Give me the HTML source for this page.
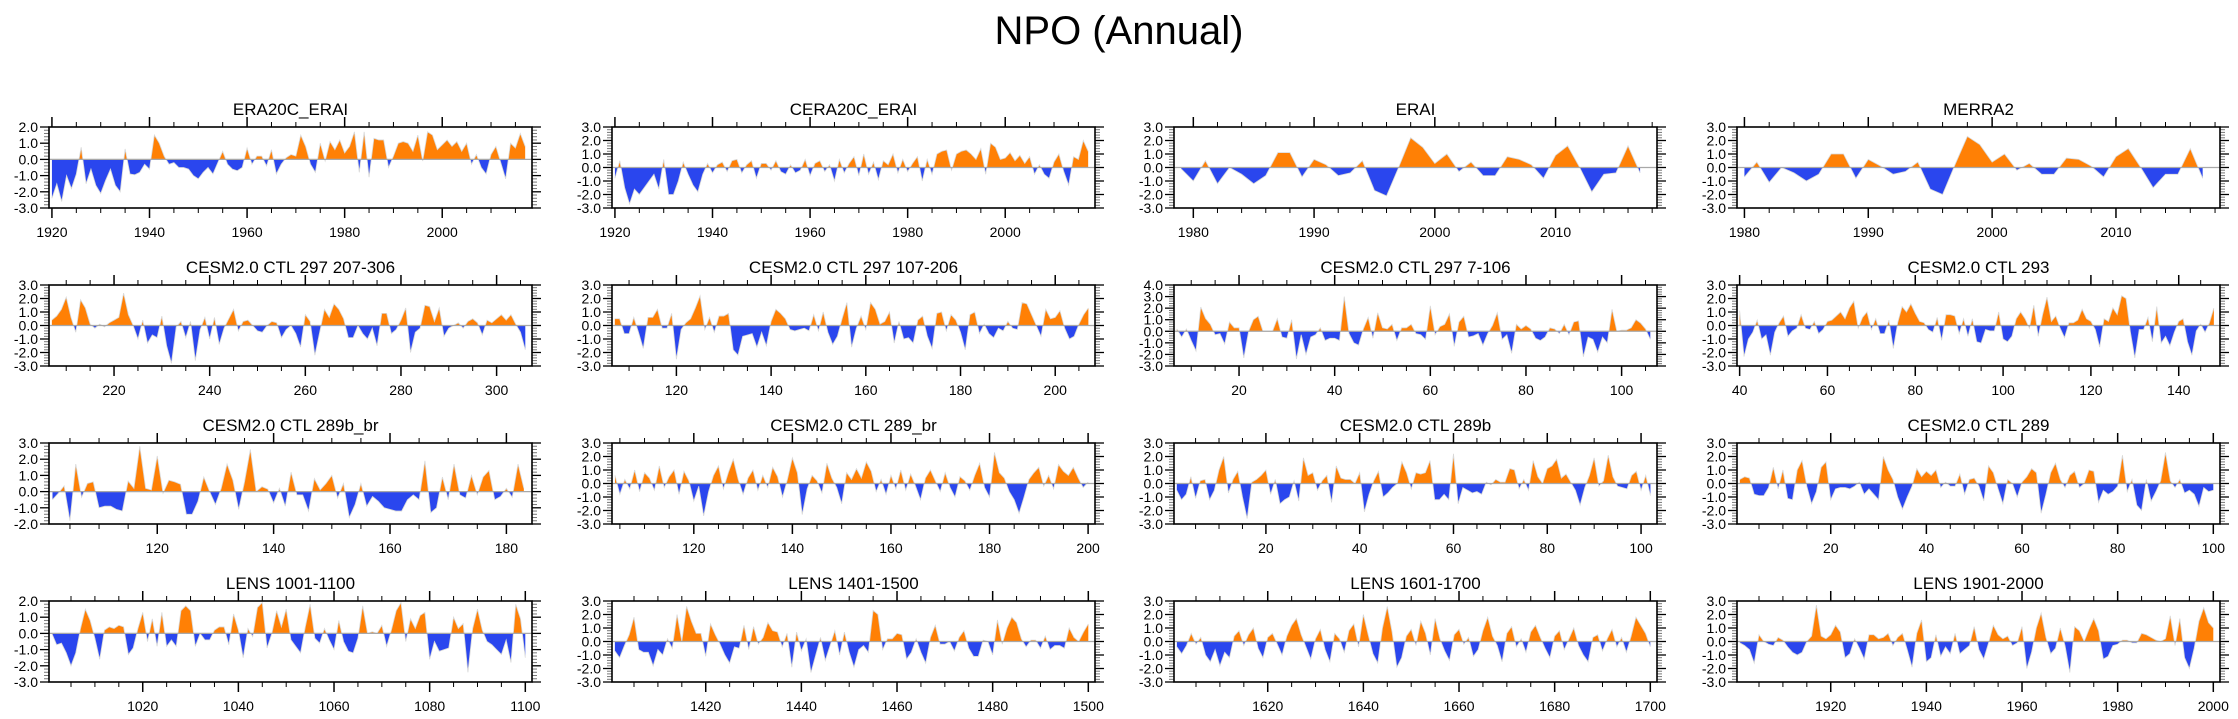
<!DOCTYPE html>
<html><head><meta charset="utf-8"><title>NPO (Annual)</title>
<style>
html,body{margin:0;padding:0;background:#fff;}
svg{display:block;font-family:"Liberation Sans",Arial,sans-serif;}
</style></head>
<body>
<svg id="chart" width="2238" height="719" viewBox="0 0 2238 719" xmlns="http://www.w3.org/2000/svg">
<text x="1119" y="44" text-anchor="middle" font-size="40" fill="#000">NPO (Annual)</text>
</svg>
<script>
// ---- data arrays (one value per year) ----
const era20cStart = 1920;
const era20cVals = [-2.4,-1.5,-2.6,-1.0,-1.8,-0.9,0.75,-1.5,-0.6,-1.6,-2.1,-1.3,-0.6,-1.6,-2.0,0.65,-0.9,-0.95,-0.8,-0.3,-0.6,1.5,1.0,0.2,-0.3,-0.2,-0.5,-0.5,-0.6,-1.0,-1.2,-0.8,-0.5,-0.9,-0.2,0.5,-0.3,-0.6,-0.7,-0.5,0.7,-0.3,0.2,0.2,-0.4,0.6,-0.9,-0.3,0.1,0.3,0.2,1.5,0.8,-0.3,-0.8,1.0,-0.1,1.1,0.6,1.2,0.4,0.8,1.7,-0.8,1.7,-1.1,1.3,1.2,1.2,-0.5,0.2,1.0,1.1,1.0,0.5,1.5,-0.1,1.7,1.5,0.6,0.9,1.2,0.8,1.1,0.5,1.0,-0.3,0.3,-0.5,-0.9,0.3,0.8,-0.2,-1.2,1.0,0.7,1.6,0.8];
const cera20cStart = 1920;
const cera20cVals = [-0.8,0.5,-1.5,-2.7,-1.6,-2.0,-1.5,-1.0,-0.5,-1.6,0.6,-2.0,-2.0,-1.0,0.4,-0.5,-1.3,-1.8,-0.5,0.3,-0.4,0.2,0.4,-0.3,0.5,0.6,-0.4,0.2,0.5,-0.8,0.3,0.3,-0.2,0.5,-0.3,-0.5,0.2,-0.4,-0.2,0.6,-0.6,0.3,0.5,-0.3,0.2,-1.0,0.6,-0.4,0.3,0.8,-0.6,1.0,-0.5,0.4,-0.9,0.5,0.2,1.0,-0.4,0.6,-0.3,0.3,0.8,-1.0,0.6,-0.5,1.0,1.2,1.3,-0.2,1.0,1.2,1.3,1.0,0.6,1.4,-0.5,1.8,1.5,0.6,0.7,1.1,0.5,0.9,0.3,0.8,-0.5,0.2,-0.5,-0.8,0.4,1.0,-0.3,-1.3,0.8,0.6,2.0,1.2];
const eraiStart = 1979;
const eraiVals = [-0.1,-1.0,0.5,-1.2,0.0,-0.5,-1.2,-0.6,1.1,1.1,-0.7,0.6,0.2,-0.6,-0.4,0.5,-1.7,-2.1,0.0,2.2,1.5,0.3,1.0,-0.3,0.4,-0.6,-0.6,0.8,0.6,0.2,-0.8,0.9,1.6,0.0,-1.8,-0.5,-0.4,1.6,-0.4];
const merra2Start = 1980;
const merra2Vals = [-0.7,0.4,-1.1,0.0,-0.4,-1.0,-0.5,1.0,1.0,-0.8,0.6,0.1,-0.5,-0.3,0.4,-1.6,-2.0,0.2,2.3,1.7,0.4,1.0,-0.2,0.3,-0.5,-0.5,0.7,0.6,0.1,-0.7,0.8,1.4,0.0,-1.5,-0.5,-0.5,1.4,-0.8];
const ctl297aStart = 207;
const ctl297aVals = [0.4,0.7,1.2,2.1,0.6,-0.5,1.9,1.3,0.1,-0.2,0.1,-0.1,0.2,0.4,0.6,2.4,0.8,0.0,-1.0,0.4,-1.3,-0.7,-0.9,0.7,-1.5,-2.8,-0.1,0.3,-0.9,0.3,-2.6,-0.3,0.6,-1.0,0.6,-1.4,-0.2,0.5,1.2,-0.4,0.3,0.4,0.0,-0.4,-0.5,0.0,0.3,0.2,-0.9,-0.3,0.0,-0.6,-1.6,0.8,0.3,-2.2,-0.5,1.2,0.6,1.6,1.2,0.5,-0.9,-0.9,0.0,-0.6,-1.0,-0.2,-1.5,0.9,0.9,-0.6,-0.3,0.4,1.3,-2.0,-0.5,-0.2,1.5,1.4,0.3,1.3,-0.8,-0.2,0.0,0.2,-0.2,0.3,0.5,0.2,-0.7,0.4,0.2,0.5,0.8,0.4,0.8,0.1,-0.5,-1.8];
const ctl297bStart = 107;
const ctl297bVals = [0.5,0.5,-0.6,-0.6,0.6,-0.5,-1.7,0.6,0.6,1.2,-0.2,-0.2,0.9,-2.5,-0.3,0.2,0.5,1.3,2.2,-0.3,0.6,-0.5,0.7,0.7,0.9,-1.8,-2.2,-0.8,-0.7,-0.6,-1.6,-0.5,-1.5,0.3,1.2,0.9,0.5,-0.3,-0.4,-0.3,-0.2,-0.4,0.8,-0.4,1.0,-0.5,-1.4,-0.8,0.5,1.7,-1.6,-0.2,0.7,-0.3,1.7,1.2,0.1,0.3,1.0,-1.3,0.3,-1.0,-0.9,-1.3,0.4,0.7,-0.8,-1.7,0.9,1.0,-0.4,0.8,0.4,-0.5,-1.8,0.8,1.0,-0.6,0.1,-0.6,-0.9,-0.2,-0.4,0.3,-0.2,-0.3,1.7,1.6,0.8,0.0,-0.8,1.2,0.5,0.6,1.1,-0.2,-1.0,-0.8,0.1,0.8,1.3];
const ctl297cStart = 7;
const ctl297cVals = [0.2,-0.5,0.2,-0.8,-1.7,2.1,1.1,0.6,-0.3,-0.2,-1.1,0.8,0.3,0.3,-2.3,0.0,1.0,1.3,0.0,0.0,0.0,1.1,-0.5,-0.6,1.0,-2.4,-0.3,-2.0,-0.5,-0.3,0.3,-0.8,-0.6,-0.6,-0.8,3.0,-0.2,-1.0,-1.2,0.2,1.2,-0.6,1.6,0.3,0.2,0.6,-0.8,0.3,0.3,0.6,-0.2,-0.3,-0.7,2.2,-0.3,0.4,0.6,1.5,-1.3,0.8,1.3,-0.5,-0.4,-0.2,-1.2,-0.2,0.5,1.6,-0.7,-0.3,-1.9,0.6,0.2,0.5,0.2,-0.6,-0.8,-0.5,0.3,0.2,-0.2,0.6,-0.3,0.8,0.9,-2.2,-0.5,-0.7,-1.8,-0.5,-1.0,1.9,0.0,0.1,0.1,0.3,1.0,0.7,0.2,-0.7];
const ctl293Start = 40;
const ctl293Vals = [1.1,-2.3,-1.0,-0.5,0.4,-1.0,-0.7,-2.2,-0.5,0.2,0.7,-0.8,-0.4,-0.2,0.8,-0.2,-0.3,0.3,-0.6,-0.3,0.3,0.4,0.7,1.0,0.5,1.3,1.8,-0.2,0.6,1.0,-0.3,0.5,-0.6,-0.6,0.4,-1.7,0.2,1.4,1.0,1.6,0.9,0.3,0.2,-0.3,-0.5,0.6,-1.1,0.8,0.8,0.7,-0.6,0.5,-0.8,0.5,-1.2,-1.3,-0.3,-0.4,-0.4,1.0,-1.0,-1.2,-0.8,0.5,1.0,0.5,-0.2,1.5,-0.8,0.8,2.1,0.3,0.7,-0.2,-0.9,0.2,0.2,0.4,1.2,0.5,0.3,-0.3,-1.6,0.5,0.3,1.3,0.8,2.2,2.0,-0.5,-2.4,-0.3,-0.3,0.6,-1.2,1.4,-1.3,-0.8,-1.5,-0.5,0.3,0.5,-1.2,-2.2,-0.4,0.1,-0.5,0.2,1.3];
const ctl289bbrStart = 102;
const ctl289bbrVals = [-0.5,-0.1,0.35,-1.8,1.7,-0.35,0.5,0.6,-1.0,-0.9,-0.9,-1.1,-1.2,0.65,0.2,2.8,0.2,0.1,2.2,-0.1,0.7,0.6,0.45,-1.4,-1.4,-0.6,0.9,0.0,-0.8,0.2,1.7,0.7,-1.1,0.6,2.6,0.0,0.3,0.15,-0.7,0.2,-0.9,1.2,-0.2,-0.2,-1.2,0.8,0.1,0.5,1.0,-0.4,0.5,-1.6,-0.8,0.5,-0.9,-0.3,-0.6,-1.0,-1.1,-1.2,-1.2,-0.5,-0.2,-0.5,1.9,-1.3,-1.0,0.9,-0.5,1.7,-0.2,-0.4,1.0,-0.2,0.9,1.3,-0.5,-0.3,0.2,-0.35,1.7,0.2];
const ctl289brStart = 104;
const ctl289brVals = [0.6,-0.8,0.3,-0.4,1.0,-0.6,0.8,0.4,-0.5,1.3,-0.3,0.5,1.0,-0.8,0.9,0.2,-1.3,-0.2,-2.4,-0.6,0.6,1.3,-0.4,0.8,1.8,0.3,-0.8,0.4,1.0,-0.5,0.6,-0.3,1.2,0.5,-1.0,0.3,1.9,0.8,-2.3,-0.4,0.6,0.2,-0.7,1.5,0.4,-0.3,-1.5,0.8,0.3,1.1,0.4,1.6,0.9,-0.6,0.3,-0.8,0.6,-0.4,1.0,-0.5,0.7,-0.2,-1.2,0.4,1.0,0.2,-0.6,0.8,-0.3,-1.0,0.5,0.2,-0.5,0.6,1.5,-0.3,-1.0,2.3,0.8,0.4,-0.6,-1.2,-2.2,-1.0,0.3,0.8,1.2,-0.2,0.6,-0.4,1.4,0.9,0.6,1.2,0.4,-0.3,0.1];
const ctl289bStart = 1;
const ctl289bVals = [-0.5,-1.2,-0.8,0.5,-1.1,0.2,0.3,-1.2,-0.5,1.0,2.0,-0.7,0.3,0.9,-1.0,-2.6,0.1,0.3,0.6,1.0,-0.8,0.3,-1.5,-1.2,-1.0,0.2,-1.3,1.9,0.6,0.8,-0.5,0.2,0.6,-1.4,1.3,0.4,0.3,0.3,0.0,0.8,-2.1,-0.8,0.2,0.9,-1.0,-0.7,-0.3,0.0,1.6,0.8,-0.4,0.8,0.7,0.8,1.7,-1.2,-1.2,-0.8,-1.2,2.2,-1.5,-0.3,-0.5,-0.7,-0.6,-0.8,0.1,-0.1,0.3,0.1,0.1,1.1,1.0,-0.4,0.3,-0.5,1.7,0.5,0.0,1.1,1.3,1.8,0.4,0.7,0.1,-0.5,-1.6,-0.3,0.6,1.9,-0.2,0.2,2.1,0.5,-0.2,-0.3,-0.4,0.6,0.9,-0.5,0.6,-0.9];
const ctl289Start = 1;
const ctl289Vals = [0.3,0.5,0.4,-0.8,-0.9,-0.9,-0.3,1.2,-0.4,1.0,-1.1,-1.2,1.0,1.7,-0.2,-1.5,-0.6,1.2,1.6,-1.2,-0.4,-0.3,-0.3,-0.4,-0.2,0.1,-0.8,-0.4,-0.8,-1.2,2.0,1.0,0.3,-1.0,-1.9,-1.0,-0.2,1.1,0.5,0.9,0.6,1.0,-0.3,0.1,-0.2,-0.2,0.7,-0.8,0.3,0.4,-0.2,-1.3,1.3,0.8,-0.4,-1.5,0.3,0.0,-1.0,0.1,0.5,1.1,0.8,-2.2,-0.8,0.8,1.5,0.3,-0.3,0.6,0.9,-0.3,0.0,1.0,0.9,-1.4,-0.5,-0.8,-0.6,-0.2,2.1,-0.6,0.3,-1.6,-2.0,0.3,-1.3,-0.6,0.2,2.3,0.2,-0.3,0.3,-0.7,-0.5,-0.8,-1.7,-0.3,-0.6,-0.5];
const lensAStart = 1001;
const lensAVals = [0.0,-0.7,-0.6,-1.2,-2.0,-1.2,0.3,1.5,0.8,-0.3,-1.6,0.2,0.4,0.3,0.5,0.4,-1.3,-0.9,0.3,1.3,-0.5,0.9,-0.8,1.3,-0.8,-0.4,-0.8,1.4,1.7,1.4,-0.8,0.0,-0.4,-0.4,0.2,0.4,0.4,-0.7,1.2,0.2,-1.5,0.3,-0.2,1.6,1.9,-0.9,0.0,1.4,0.4,1.5,-0.4,-0.8,-1.2,0.4,1.8,-0.3,-0.6,0.3,-0.4,-1.0,0.8,-0.5,-1.1,-1.2,-0.3,1.7,0.0,0.1,0.0,0.5,-0.8,0.2,1.4,1.9,-0.5,0.9,0.3,1.1,1.3,-1.6,-0.5,-1.1,-1.0,-0.9,1.0,0.3,0.6,-2.4,0.3,1.5,0.2,-0.5,-0.7,-1.0,-1.3,-0.4,-1.8,1.8,0.9,-1.5];
const lensBStart = 1401;
const lensBVals = [-0.7,-1.2,-0.3,0.5,1.8,-0.6,-0.8,-0.8,-1.8,-0.6,-1.0,0.2,-0.5,2.0,0.0,2.6,1.5,0.6,0.6,-1.1,1.3,0.5,-0.2,-1.0,-1.6,-0.4,-0.5,1.2,-0.6,1.1,-0.2,0.3,1.4,0.8,0.7,-0.4,0.6,-1.9,0.7,-0.7,0.2,-2.3,-1.0,0.3,-1.4,-0.3,0.8,-1.0,0.7,-0.8,-1.9,-0.6,-0.3,-0.8,2.3,2.0,-0.6,0.2,0.2,0.6,0.5,-1.3,-0.8,0.2,-0.8,-1.6,0.3,1.2,-0.2,-0.2,0.0,-0.7,0.3,0.8,-0.5,-1.1,-1.1,0.1,0.0,-1.0,1.6,-0.2,1.0,1.8,1.4,0.2,-0.4,0.1,0.1,-0.5,0.4,-0.6,-0.3,-0.3,-0.5,1.0,0.3,0.0,0.7,1.3];
const lensCStart = 1601;
const lensCVals = [-0.4,-0.9,-0.3,0.6,-0.2,0.3,-1.0,-1.5,-0.6,-1.8,-0.8,-1.2,0.4,0.8,-0.3,0.5,1.0,-0.5,-1.2,0.3,0.6,-0.2,-1.0,0.4,1.2,1.7,0.5,-0.4,-1.3,0.2,0.9,-0.6,-1.5,0.6,0.2,-0.8,0.8,1.3,-0.4,2.0,0.5,-0.9,-1.6,1.0,2.6,0.7,-1.9,-1.2,0.4,0.9,-0.3,1.5,0.6,-1.0,1.7,0.2,-0.7,-1.4,0.5,0.9,-0.2,0.3,-1.1,-0.6,0.8,1.8,0.4,-0.3,-1.5,0.6,1.1,-0.4,0.2,-0.8,0.7,1.2,0.3,-0.5,-1.2,0.4,0.8,-0.6,0.2,1.0,-0.3,-1.0,-1.5,0.3,0.5,-0.7,0.2,0.9,-0.4,0.3,-0.8,0.4,1.8,1.2,0.6,-0.4];
const lensDStart = 1901;
const lensDVals = [-0.1,-0.3,-0.6,-1.6,0.5,0.0,-0.2,-0.3,0.3,0.1,-0.4,-0.8,-1.0,-0.8,0.0,0.4,2.7,0.4,0.2,0.5,1.2,0.7,-1.2,-0.9,0.2,-0.5,-1.3,0.5,0.5,0.2,0.3,0.6,-0.3,0.3,0.6,-0.6,-1.9,0.6,1.6,-1.5,-1.2,0.5,-1.1,-0.4,-0.9,0.6,-0.9,-0.6,-0.3,1.1,-0.6,-1.3,-0.1,1.2,0.5,0.2,0.4,-0.3,-0.1,1.1,-2.0,-0.8,1.0,2.1,0.3,-0.9,-0.5,1.0,-0.3,-2.3,1.1,0.8,0.0,0.9,1.7,0.8,-1.3,-1.1,-0.3,-0.2,0.1,0.1,-0.1,-0.1,0.6,0.5,0.3,0.1,0.0,0.2,1.9,-0.3,1.7,-1.2,-2.0,-0.5,1.5,2.5,1.4,1.0];

// ---- panel layout ----
const colLeft = [49, 612, 1174, 1737];
const rowTop = [127, 285, 443, 601];
const W = 483, H = 81;

const panels = [
 {name:'era20c-erai', title:'ERA20C_ERAI', start:era20cStart, vals:era20cVals, yMin:-3, yMax:2, maj:20, min:5, r:0, c:0},
 {name:'cera20c-erai', title:'CERA20C_ERAI', start:cera20cStart, vals:cera20cVals, yMin:-3, yMax:3, maj:20, min:5, r:0, c:1},
 {name:'erai', title:'ERAI', start:eraiStart, vals:eraiVals, yMin:-3, yMax:3, maj:10, min:2, r:0, c:2},
 {name:'merra2', title:'MERRA2', start:merra2Start, vals:merra2Vals, yMin:-3, yMax:3, maj:10, min:2, r:0, c:3},
 {name:'ctl-297-207-306', title:'CESM2.0 CTL 297 207-306', start:ctl297aStart, vals:ctl297aVals, yMin:-3, yMax:3, maj:20, min:5, r:1, c:0},
 {name:'ctl-297-107-206', title:'CESM2.0 CTL 297 107-206', start:ctl297bStart, vals:ctl297bVals, yMin:-3, yMax:3, maj:20, min:5, r:1, c:1},
 {name:'ctl-297-7-106', title:'CESM2.0 CTL 297 7-106', start:ctl297cStart, vals:ctl297cVals, yMin:-3, yMax:4, maj:20, min:5, r:1, c:2},
 {name:'ctl-293', title:'CESM2.0 CTL 293', start:ctl293Start, vals:ctl293Vals, yMin:-3, yMax:3, maj:20, min:5, r:1, c:3},
 {name:'ctl-289b-br', title:'CESM2.0 CTL 289b_br', start:ctl289bbrStart, vals:ctl289bbrVals, yMin:-2, yMax:3, maj:20, min:5, r:2, c:0},
 {name:'ctl-289-br', title:'CESM2.0 CTL 289_br', start:ctl289brStart, vals:ctl289brVals, yMin:-3, yMax:3, maj:20, min:5, r:2, c:1},
 {name:'ctl-289b', title:'CESM2.0 CTL 289b', start:ctl289bStart, vals:ctl289bVals, yMin:-3, yMax:3, maj:20, min:5, r:2, c:2},
 {name:'ctl-289', title:'CESM2.0 CTL 289', start:ctl289Start, vals:ctl289Vals, yMin:-3, yMax:3, maj:20, min:5, r:2, c:3},
 {name:'lens-1001-1100', title:'LENS 1001-1100', start:lensAStart, vals:lensAVals, yMin:-3, yMax:2, maj:20, min:5, r:3, c:0},
 {name:'lens-1401-1500', title:'LENS 1401-1500', start:lensBStart, vals:lensBVals, yMin:-3, yMax:3, maj:20, min:5, r:3, c:1},
 {name:'lens-1601-1700', title:'LENS 1601-1700', start:lensCStart, vals:lensCVals, yMin:-3, yMax:3, maj:20, min:5, r:3, c:2},
 {name:'lens-1901-2000', title:'LENS 1901-2000', start:lensDStart, vals:lensDVals, yMin:-3, yMax:3, maj:20, min:5, r:3, c:3}
];

const NS = 'http://www.w3.org/2000/svg';
const svg = document.getElementById('chart');
function mk(tag, attrs, parent){
  const e = document.createElementNS(NS, tag);
  for (const k in attrs) e.setAttribute(k, attrs[k]);
  (parent||svg).appendChild(e);
  return e;
}

panels.forEach((p, pi) => {
  const L = colLeft[p.c], T = rowTop[p.r], B = T + H, R = L + W;
  const n = p.vals.length;
  const d0 = p.start - 0.6, d1 = p.start + n - 1 + 1.4;
  const xs = v => L + (v - d0) / (d1 - d0) * W;
  const ys = v => T + (p.yMax - v) / (p.yMax - p.yMin) * H;

  const g = mk('g', {});
  
  

  const t = mk('text', {x: L + W/2, y: T - 12, 'text-anchor':'middle', 'font-size':'17', fill:'#000'}, g);
  t.textContent = p.title;
  
  

  // clip paths
  const defs = mk('defs', {}, g);
  const cpA = mk('clipPath', {id:'ca'+pi}, defs);
  mk('rect', {x:L, y:T, width:W, height:Math.max(0, ys(0)-T)}, cpA);
  const cpB = mk('clipPath', {id:'cb'+pi}, defs);
  mk('rect', {x:L, y:ys(0), width:W, height:Math.max(0, B-ys(0))}, cpB);

  let pts = xs(p.start).toFixed(2) + ',' + ys(0).toFixed(2) + ' ';
  let line = '';
  p.vals.forEach((v, i) => {
    const s = xs(p.start + i).toFixed(2) + ',' + ys(v).toFixed(2) + ' ';
    pts += s; line += s;
  });
  pts += xs(p.start + n - 1).toFixed(2) + ',' + ys(0).toFixed(2);

  const pos = mk('polygon', {points: pts, fill:'#ff8005', 'clip-path':'url(#ca'+pi+')'}, g);
  
  
  const neg = mk('polygon', {points: pts, fill:'#2a46ee', 'clip-path':'url(#cb'+pi+')'}, g);
  
  
  const ln = mk('polyline', {points: line, fill:'none', stroke:'#d8d8d8', 'stroke-width':'0.8'}, g);
  
  

  const zl = mk('line', {x1:L, x2:R, y1:ys(0), y2:ys(0), stroke:'#a8a8a8', 'stroke-width':'1.2'}, g);
  
  

  // y ticks
  for (let v = p.yMin; v <= p.yMax + 1e-9; v += 0.2) {
    const y = ys(v);
    const major = Math.abs(v - Math.round(v)) < 1e-6;
    const len = major ? 9 : 5;
    const col = major ? '#000' : '#777';
    mk('line', {x1:L-len, x2:L, y1:y, y2:y, stroke:col, 'stroke-width': major?1.3:1}, g);
    mk('line', {x1:R, x2:R+len, y1:y, y2:y, stroke:col, 'stroke-width': major?1.3:1}, g);
    if (major) {
      const lb = mk('text', {x:L-11, y:y+5, 'text-anchor':'end', 'font-size':'14', fill:'#000'}, g);
      lb.textContent = Math.round(v).toFixed(1);
      
      
    }
  }
  // x ticks
  const firstMinor = Math.ceil(d0 / p.min) * p.min;
  for (let v = firstMinor; v <= d1; v += p.min) {
    const x = xs(v);
    const major = v % p.maj === 0;
    const len = major ? 10 : 5;
    mk('line', {x1:x, x2:x, y1:T-len, y2:T, stroke:'#000', 'stroke-width': major?1.5:1}, g);
    mk('line', {x1:x, x2:x, y1:B, y2:B+len, stroke:'#000', 'stroke-width': major?1.5:1}, g);
    if (major) {
      const lb = mk('text', {x:x, y:B+29, 'text-anchor':'middle', 'font-size':'14', fill:'#000'}, g);
      lb.textContent = String(v);
      
      
    }
  }
  const box = mk('rect', {x:L, y:T, width:W, height:H, fill:'none', stroke:'#000', 'stroke-width':'1.6'}, g);
  
  
});
</script>
</body></html>
